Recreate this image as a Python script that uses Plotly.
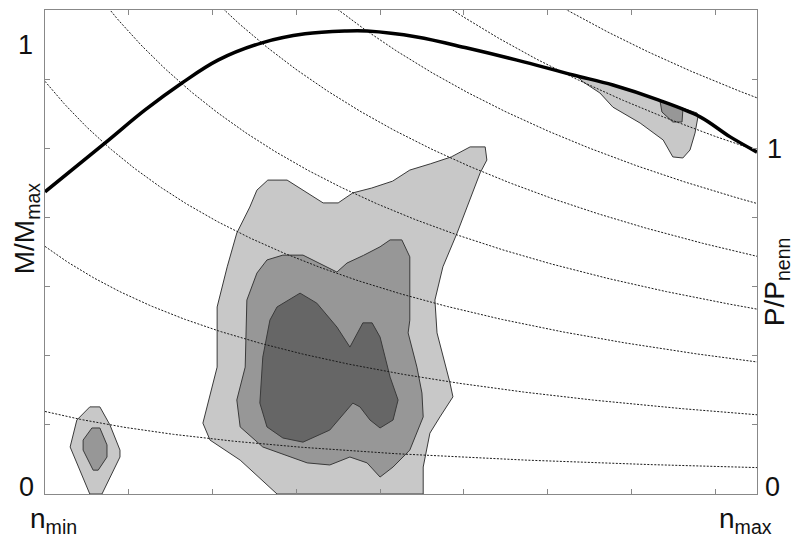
import numpy as np
import plotly.graph_objects as go

# ---- axis values (speed in rpm, torque in Nm) ----
n_min, n_max = 800, 2500
m_top = 1400
m_max = 1300
x_ticks = [1000, 1200, 1400, 1600, 1800, 2000, 2200, 2400]
y_ticks = [200, 400, 600, 800, 1000, 1200]

# full-load torque curve
curve_n = [800, 943, 1039, 1127, 1213, 1318, 1421, 1516, 1569, 1688, 1808, 1927, 2061, 2156, 2264, 2364, 2436, 2500]
curve_m = [874, 1015, 1111, 1189, 1255, 1305, 1331, 1339, 1339, 1322, 1290, 1255, 1212, 1183, 1140, 1091, 1033, 989]

# constant power lines (kW), rated power
power_levels = [20, 60, 100, 140, 180, 220, 260, 300]
p_nenn = 260

# operating-point frequency regions (outer = light, inner = dark)
main_light_n = [1354, 1266, 1194, 1177, 1211, 1211, 1235, 1258, 1289, 1306, 1332, 1378, 1464, 1500, 1535,
                1580, 1630, 1671, 1720, 1770, 1815, 1851, 1855, 1839, 1784, 1750, 1731, 1736, 1767, 1774,
                1743, 1719, 1703, 1703]
main_light_m = [0, 98, 156, 205, 367, 541, 657, 755, 830, 879, 908, 908, 842, 842, 871,
                885, 905, 937, 955, 975, 1004, 1004, 966, 929, 755, 657, 561, 466, 321, 281,
                223, 176, 78, 0]

main_mid_n = [1368, 1416, 1497, 1521, 1560, 1600, 1624, 1652, 1671, 1671, 1667, 1688, 1700, 1703, 1671,
              1631, 1600, 1569, 1528, 1480, 1426, 1320, 1266, 1258, 1278, 1282, 1306, 1330]
main_mid_m = [691, 691, 642, 668, 690, 715, 735, 735, 686, 503, 466, 367, 292, 223, 127,
              78, 49, 90, 107, 84, 90, 136, 194, 272, 367, 561, 639, 677]

main_dark_n = [1354, 1409, 1449, 1497, 1528, 1559, 1581, 1600, 1624, 1643, 1631, 1600, 1576, 1552, 1535,
               1521, 1480, 1416, 1368, 1330, 1313, 1320, 1337]
main_dark_m = [541, 581, 552, 483, 425, 495, 495, 454, 338, 272, 214, 191, 214, 252, 263,
               243, 185, 150, 162, 194, 263, 396, 503]

low_light_n = [907, 931, 955, 979, 979, 936, 907, 860, 876]
low_light_m = [252, 252, 200, 127, 107, 0, 0, 136, 214]

low_mid_n = [912, 931, 948, 948, 927, 915, 891, 891]
low_mid_m = [191, 191, 142, 107, 69, 69, 127, 156]

high_light_n = [2070, 2156, 2264, 2357, 2359, 2352, 2340, 2323, 2299, 2276, 2221, 2156, 2125, 2108, 2085]
high_light_m = [1208, 1183, 1140, 1102, 1091, 1044, 995, 972, 975, 1024, 1073, 1119, 1160, 1174, 1192]

high_mid_n = [2268, 2323, 2321, 2299, 2273]
high_mid_m = [1140, 1111, 1076, 1076, 1105]

light = "#c8c8c8"
mid = "#979797"
dark = "#666666"
edge = "#3a3a3a"

fig = go.Figure()

def region(xs, ys, color):
    fig.add_trace(go.Scatter(x=xs + xs[:1], y=ys + ys[:1], mode="lines", fill="toself",
                             fillcolor=color, line=dict(color=edge, width=1),
                             hoverinfo="skip", showlegend=False))

region(main_light_n, main_light_m, light)
region(main_mid_n, main_mid_m, mid)
region(main_dark_n, main_dark_m, dark)
region(low_light_n, low_light_m, light)
region(low_mid_n, low_mid_m, mid)
region(high_light_n, high_light_m, light)
region(high_mid_n, high_mid_m, mid)

n_grid = np.linspace(n_min, n_max, 300)
for p in power_levels:
    m = 9549.3 * p / n_grid
    fig.add_trace(go.Scatter(x=n_grid, y=m, mode="lines",
                             line=dict(color="#1a1a1a", width=1, dash="2px,1.5px"),
                             hoverinfo="skip", showlegend=False))

fig.add_trace(go.Scatter(x=curve_n, y=curve_m, mode="lines",
                         line=dict(color="black", width=3.5, shape="spline", smoothing=1.0),
                         showlegend=False))

font = "Liberation Sans, Arial, sans-serif"
m_at_pnenn = 9549.3 * p_nenn / n_max
tick_font = dict(size=27, color="#111")
title_font = dict(size=28, color="#111")

annotations = [
    dict(x=0, xref="paper", y=0, yref="y", text="0", showarrow=False, xanchor="right",
         yanchor="middle", xshift=-9, yshift=7, font=tick_font),
    dict(x=0, xref="paper", y=m_max, yref="y", text="1", showarrow=False, xanchor="right",
         yanchor="middle", xshift=-10, font=tick_font),
    dict(x=1, xref="paper", y=0, yref="y", text="0", showarrow=False, xanchor="left",
         yanchor="middle", xshift=6, yshift=7, font=tick_font),
    dict(x=1, xref="paper", y=m_at_pnenn, yref="y", text="1", showarrow=False, xanchor="left",
         yanchor="middle", xshift=8, yshift=2, font=tick_font),
    dict(x=-0.026, xref="paper", y=0.55, yref="paper", text="M/M<sub>max</sub>", showarrow=False,
         textangle=-90, xanchor="center", yanchor="middle", font=title_font),
    dict(x=1.027, xref="paper", y=0.438, yref="paper", text="P/P<sub>nenn</sub>", showarrow=False,
         textangle=-90, xanchor="center", yanchor="middle", font=title_font),
    dict(x=n_min, xref="x", y=-0.055, yref="paper", text="n<sub>min</sub>", showarrow=False,
         xanchor="center", yanchor="middle", xshift=8, font=title_font),
    dict(x=n_max, xref="x", y=-0.055, yref="paper", text="n<sub>max</sub>", showarrow=False,
         xanchor="center", yanchor="middle", xshift=-12, font=title_font),
]

axis_common = dict(showgrid=False, zeroline=False, showline=True, linecolor="#888888", linewidth=1,
                   mirror="ticks", ticks="inside", ticklen=5, tickcolor="#888888", tickwidth=1,
                   showticklabels=False)

fig.update_layout(
    width=797, height=539,
    margin=dict(l=45, r=40, t=10, b=45),
    paper_bgcolor="white", plot_bgcolor="white",
    font=dict(family=font),
    xaxis=dict(range=[n_min, n_max], tickvals=x_ticks, **axis_common),
    yaxis=dict(range=[0, m_top], tickvals=y_ticks, **axis_common),
    annotations=annotations,
    showlegend=False,
)

fig.write_html("out.html")
